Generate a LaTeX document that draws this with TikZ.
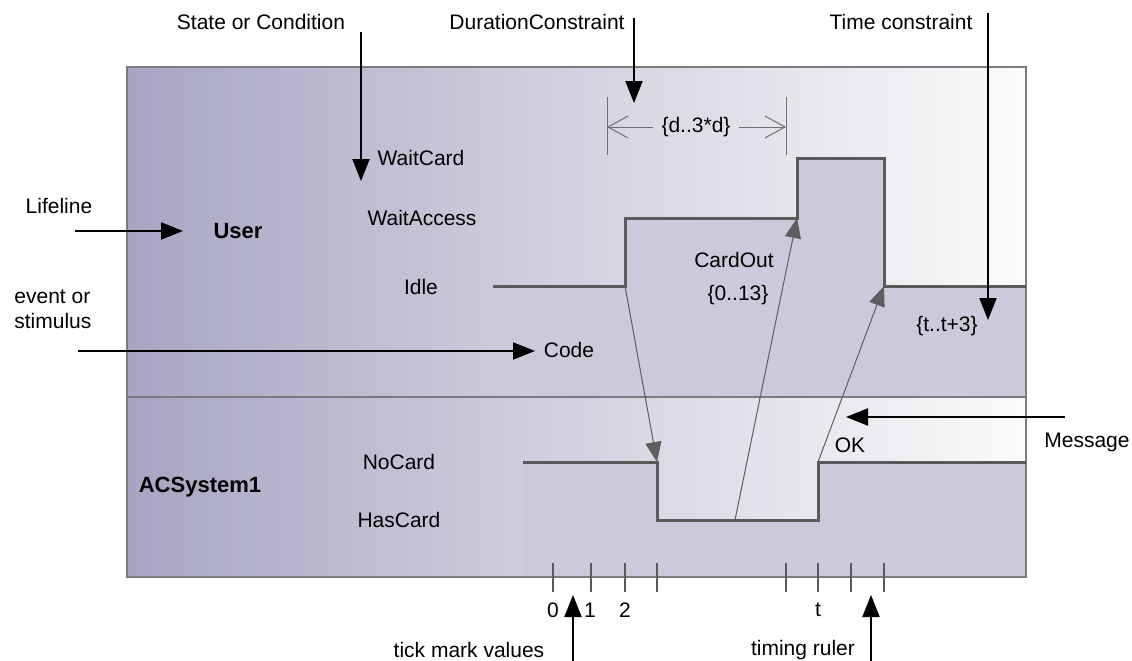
\documentclass[tikz,border=0pt]{standalone}
\usepackage{fontspec}
\setmainfont{Liberation Sans}
\usetikzlibrary{arrows.meta, positioning}
\definecolor{fadeL}{HTML}{A7A5C2}
\definecolor{fadeM}{HTML}{CBCADA}
\definecolor{fadeR}{HTML}{FBFBFB}
\definecolor{lanecol}{HTML}{CBCADA}
\definecolor{framecol}{HTML}{7A7A80}
\definecolor{wavecol}{HTML}{5A5A5A}
\definecolor{msgcol}{HTML}{5E5E5E}
\definecolor{dimcol}{HTML}{707070}
\tikzset{
  statelbl/.style={font=\fontsize{10.5}{12.5}\selectfont, inner sep=1pt},
  lanelbl/.style={font=\fontsize{11}{13}\selectfont\bfseries, inner sep=1pt},
  notelbl/.style={font=\fontsize{10.5}{12.5}\selectfont, inner sep=1pt},
  wave/.style={draw=wavecol, line width=1.5pt},
  msg/.style={draw=msgcol, line width=0.5pt, -{Triangle[length=10pt, width=8pt]}},
  note/.style={draw=black, line width=1pt, -{Triangle[length=11pt, width=8.5pt]}},
  tickmark/.style={draw=wavecol, line width=1pt},
  dimline/.style={draw=dimcol, line width=0.5pt},
}

\begin{document}
\begin{tikzpicture}[x=0.5pt, y=-0.5pt]
  \useasboundingbox (0,0) rectangle (1132,660);
  % ── lane background (fade) and flat fill under the state lines ───
  \shade[left color=fadeL, right color=fadeM] (127,67) rectangle (494,577);
  \shade[left color=fadeM, right color=fadeR] (493,67) rectangle (1026,577);
  \fill[lanecol] (493,286) -- (625,286) -- (625,218) -- (797,218) -- (797,158)
    -- (884,158) -- (884,286) -- (1026,286) -- (1026,397) -- (493,397) -- cycle;
  \fill[lanecol] (523,462) -- (657,462) -- (657,520) -- (818,520) -- (818,462)
    -- (1026,462) -- (1026,577) -- (523,577) -- cycle;
  % ── frame and lane divider ───────────────────────────────────────
  \draw[framecol, line width=1pt] (127,67) rectangle (1026,577);
  \draw[framecol, line width=1pt] (127,397) -- (1026,397);
  % ── state line corners: User ─────────────────────────────────────
  \coordinate (u0) at (493,286);
  \coordinate (u1) at (625,286);
  \coordinate (u2) at (625,218);
  \coordinate (u3) at (797,218);
  \coordinate (u4) at (797,158);
  \coordinate (u5) at (884,158);
  \coordinate (u6) at (884,286);
  \coordinate (u7) at (1026,286);
  % ── state line corners: ACSystem1 ────────────────────────────────
  \coordinate (s0) at (523,462);
  \coordinate (s1) at (657,462);
  \coordinate (s2) at (657,520);
  \coordinate (sm) at (735,520);
  \coordinate (s3) at (818,520);
  \coordinate (s4) at (818,462);
  \coordinate (s5) at (1026,462);
  \draw[wave] (u0) -- (u1) -- (u2) -- (u3) -- (u4) -- (u5) -- (u6) -- (u7);
  \draw[wave] (s0) -- (s1) -- (s2) -- (s3) -- (s4) -- (s5);
  % ── messages between the lifelines ───────────────────────────────
  \draw[msg] (u1) -- (s1);
  \draw[msg] (sm) -- (u3);
  \draw[msg] (s4) -- (u6);
  % ── lane and state labels ────────────────────────────────────────
  \node[lanelbl] (user) at (238,231) {User};
  \node[lanelbl] (acsys) at (200,487) {ACSystem1};
  \node[statelbl] (waitcard) at (421,158) {WaitCard};
  \node[statelbl] (waitacc) at (422,218) {WaitAccess};
  \node[statelbl] (idle) at (421,287) {Idle};
  \node[statelbl] (nocard) at (399,462) {NoCard};
  \node[statelbl] (hascard) at (399,520) {HasCard};
  \node[statelbl] (cardout) at (734,260) {CardOut};
  \node[statelbl] (cardrng) at (738,295) {\{0..13\}};
  \node[statelbl] (code) at (569,350) {Code};
  \node[statelbl] (tcons) at (947,326) {\{t..t+3\}};
  \node[statelbl] (ok) at (850,445) {OK};
  % ── duration constraint ──────────────────────────────────────────
  \coordinate (dA) at (607,127);
  \coordinate (dB) at (786,127);
  \draw[dimline] (607,97) -- (607,155);
  \draw[dimline] (786,97) -- (786,155);
  \node[statelbl, inner sep=4pt] (dur) at (696,127) {\{d..3*d\}};
  \draw[dimline, -{Straight Barb[length=10pt, width=11pt]}] (dur) -- (dA);
  \draw[dimline, -{Straight Barb[length=10pt, width=11pt]}] (dur) -- (dB);
  % ── timing ruler ─────────────────────────────────────────────────
  \foreach \tx in {553,591,625,657,786,818,851,884}
    \draw[tickmark] (\tx,563) -- (\tx,592);
  \node[statelbl] (tk0) at (553,610) {0};
  \node[statelbl] (tk1) at (590,610) {1};
  \node[statelbl] (tk2) at (625,610) {2};
  \node[statelbl] (tkt) at (818,610) {t};
  % ── annotations outside the frame ────────────────────────────────
  \node[notelbl] (stateNote) at (261,22) {State or Condition};
  \node[notelbl] (durNote) at (537,22) {DurationConstraint};
  \node[notelbl] (timeNote) at (901,22) {Time constraint};
  \node[notelbl] (lifeNote) at (59,206) {Lifeline};
  \node[notelbl, align=left, anchor=west] (eventNote) at (12,309) {event or\\stimulus};
  \node[notelbl] (msgNote) at (1087,442) {Message};
  \node[notelbl] (tickNote) at (469,650) {tick mark values};
  \node[notelbl] (rulerNote) at (803,650) {timing ruler};
  \coordinate (stateT) at (361,32);   \coordinate (stateH) at (361,181);
  \coordinate (durT) at (634,18);     \coordinate (durH) at (634,103);
  \coordinate (timeT) at (988,13);    \coordinate (timeH) at (988,320);
  \coordinate (lifeT) at (75,231);    \coordinate (lifeH) at (183,231);
  \coordinate (eventT) at (78,351);   \coordinate (eventH) at (535,351);
  \coordinate (msgT) at (1065,417);   \coordinate (msgH) at (846,417);
  \coordinate (tickT) at (573,662);   \coordinate (tickH) at (573,595);
  \coordinate (rulerT) at (871,662);  \coordinate (rulerH) at (871,595);
  \foreach \an in {state,dur,time,life,event,msg,tick,ruler}
    \draw[note] (\an T) -- (\an H);
\end{tikzpicture}
\end{document}
